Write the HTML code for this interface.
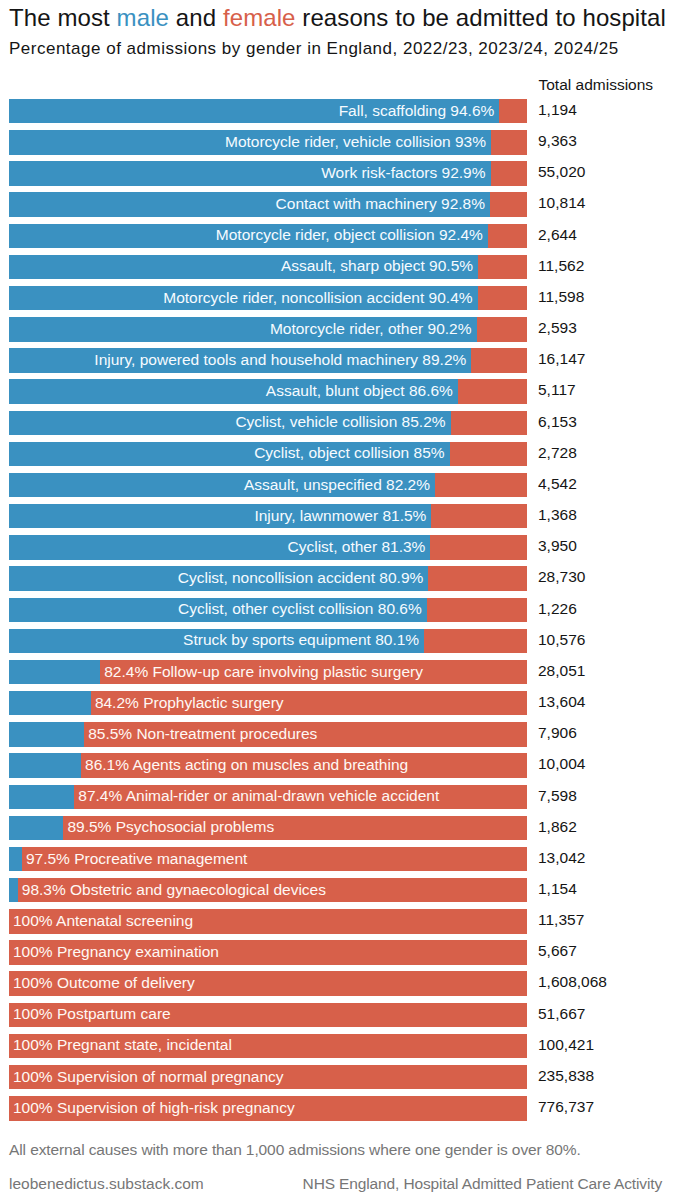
<!DOCTYPE html>
<html><head><meta charset="utf-8"><style>
*{margin:0;padding:0;box-sizing:border-box}
html,body{width:673px;height:1200px;background:#fff;overflow:hidden;font-family:"Liberation Sans",sans-serif;color:#111}
.t{position:absolute;left:9px;top:5.7px;font-size:24px;line-height:24px;letter-spacing:0.1px;white-space:nowrap;color:#151515}
.s{position:absolute;left:9px;top:39.6px;font-size:17px;line-height:17px;letter-spacing:0.5px;white-space:nowrap;color:#151515}
.ta{position:absolute;left:538.5px;top:77.1px;font-size:15.5px;line-height:15.5px;white-space:nowrap;color:#151515}
.r{position:absolute;left:0;width:673px;height:24.4px}
.r::before{content:"";position:absolute;left:9px;top:0;width:518.3px;height:24.4px;background:#d7604a}
.b{position:absolute;left:9px;top:0;height:24.4px;background:#3a91c1}
.lm{position:absolute;right:5px;top:3.7px;line-height:15.5px;font-size:15.5px;color:#f6fbff;white-space:nowrap}
.lf{position:absolute;top:3.7px;line-height:15.5px;font-size:15.5px;color:#fff8f4;white-space:nowrap}
.n{position:absolute;left:538px;top:3.0px;line-height:15.5px;font-size:15.5px;color:#151515;white-space:nowrap}
.f1{position:absolute;left:9px;letter-spacing:-0.1px;top:1141.9px;font-size:15.5px;line-height:15.5px;color:#767676;white-space:nowrap}
.f2{position:absolute;left:9px;top:1175.6px;font-size:15.5px;line-height:15.5px;color:#767676;white-space:nowrap}
.f3{position:absolute;right:11px;letter-spacing:-0.13px;top:1175.6px;font-size:15.5px;line-height:15.5px;color:#767676;white-space:nowrap}
.m{color:#3a91c1} .fe{color:#d7604a}
</style></head><body>
<div class="t">The most <span class="m">male</span> and <span class="fe">female</span> reasons to be admitted to hospital</div>
<div class="s">Percentage of admissions by gender in England, 2022/23, 2023/24, 2024/25</div>
<div class="ta">Total admissions</div>
<div class="r" style="top:99.00px"><div class="b" style="width:490.31px"><span class="lm">Fall, scaffolding 94.6%</span></div><div class="n">1,194</div></div>
<div class="r" style="top:130.16px"><div class="b" style="width:482.02px"><span class="lm">Motorcycle rider, vehicle collision 93%</span></div><div class="n">9,363</div></div>
<div class="r" style="top:161.32px"><div class="b" style="width:481.50px"><span class="lm">Work risk-factors 92.9%</span></div><div class="n">55,020</div></div>
<div class="r" style="top:192.48px"><div class="b" style="width:480.98px"><span class="lm">Contact with machinery 92.8%</span></div><div class="n">10,814</div></div>
<div class="r" style="top:223.64px"><div class="b" style="width:478.91px"><span class="lm">Motorcycle rider, object collision 92.4%</span></div><div class="n">2,644</div></div>
<div class="r" style="top:254.80px"><div class="b" style="width:469.06px"><span class="lm">Assault, sharp object 90.5%</span></div><div class="n">11,562</div></div>
<div class="r" style="top:285.96px"><div class="b" style="width:468.54px"><span class="lm">Motorcycle rider, noncollision accident 90.4%</span></div><div class="n">11,598</div></div>
<div class="r" style="top:317.12px"><div class="b" style="width:467.51px"><span class="lm">Motorcycle rider, other 90.2%</span></div><div class="n">2,593</div></div>
<div class="r" style="top:348.28px"><div class="b" style="width:462.32px"><span class="lm">Injury, powered tools and household machinery 89.2%</span></div><div class="n">16,147</div></div>
<div class="r" style="top:379.44px"><div class="b" style="width:448.85px"><span class="lm">Assault, blunt object 86.6%</span></div><div class="n">5,117</div></div>
<div class="r" style="top:410.60px"><div class="b" style="width:441.59px"><span class="lm">Cyclist, vehicle collision 85.2%</span></div><div class="n">6,153</div></div>
<div class="r" style="top:441.76px"><div class="b" style="width:440.55px"><span class="lm">Cyclist, object collision 85%</span></div><div class="n">2,728</div></div>
<div class="r" style="top:472.92px"><div class="b" style="width:426.04px"><span class="lm">Assault, unspecified 82.2%</span></div><div class="n">4,542</div></div>
<div class="r" style="top:504.08px"><div class="b" style="width:422.41px"><span class="lm">Injury, lawnmower 81.5%</span></div><div class="n">1,368</div></div>
<div class="r" style="top:535.24px"><div class="b" style="width:421.38px"><span class="lm">Cyclist, other 81.3%</span></div><div class="n">3,950</div></div>
<div class="r" style="top:566.40px"><div class="b" style="width:419.30px"><span class="lm">Cyclist, noncollision accident 80.9%</span></div><div class="n">28,730</div></div>
<div class="r" style="top:597.56px"><div class="b" style="width:417.75px"><span class="lm">Cyclist, other cyclist collision 80.6%</span></div><div class="n">1,226</div></div>
<div class="r" style="top:628.72px"><div class="b" style="width:415.16px"><span class="lm">Struck by sports equipment 80.1%</span></div><div class="n">10,576</div></div>
<div class="r" style="top:659.88px"><div class="b" style="width:91.22px"></div><span class="lf" style="left:104.22px">82.4% Follow-up care involving plastic surgery</span><div class="n">28,051</div></div>
<div class="r" style="top:691.04px"><div class="b" style="width:81.89px"></div><span class="lf" style="left:94.89px">84.2% Prophylactic surgery</span><div class="n">13,604</div></div>
<div class="r" style="top:722.20px"><div class="b" style="width:75.15px"></div><span class="lf" style="left:88.15px">85.5% Non-treatment procedures</span><div class="n">7,906</div></div>
<div class="r" style="top:753.36px"><div class="b" style="width:72.04px"></div><span class="lf" style="left:85.04px">86.1% Agents acting on muscles and breathing</span><div class="n">10,004</div></div>
<div class="r" style="top:784.52px"><div class="b" style="width:65.31px"></div><span class="lf" style="left:78.31px">87.4% Animal-rider or animal-drawn vehicle accident</span><div class="n">7,598</div></div>
<div class="r" style="top:815.68px"><div class="b" style="width:54.42px"></div><span class="lf" style="left:67.42px">89.5% Psychosocial problems</span><div class="n">1,862</div></div>
<div class="r" style="top:846.84px"><div class="b" style="width:12.96px"></div><span class="lf" style="left:25.96px">97.5% Procreative management</span><div class="n">13,042</div></div>
<div class="r" style="top:878.00px"><div class="b" style="width:8.81px"></div><span class="lf" style="left:21.81px">98.3% Obstetric and gynaecological devices</span><div class="n">1,154</div></div>
<div class="r" style="top:909.16px"><div class="b" style="width:0.00px"></div><span class="lf" style="left:13.00px">100% Antenatal screening</span><div class="n">11,357</div></div>
<div class="r" style="top:940.32px"><div class="b" style="width:0.00px"></div><span class="lf" style="left:13.00px">100% Pregnancy examination</span><div class="n">5,667</div></div>
<div class="r" style="top:971.48px"><div class="b" style="width:0.00px"></div><span class="lf" style="left:13.00px">100% Outcome of delivery</span><div class="n">1,608,068</div></div>
<div class="r" style="top:1002.64px"><div class="b" style="width:0.00px"></div><span class="lf" style="left:13.00px">100% Postpartum care</span><div class="n">51,667</div></div>
<div class="r" style="top:1033.80px"><div class="b" style="width:0.00px"></div><span class="lf" style="left:13.00px">100% Pregnant state, incidental</span><div class="n">100,421</div></div>
<div class="r" style="top:1064.96px"><div class="b" style="width:0.00px"></div><span class="lf" style="left:13.00px">100% Supervision of normal pregnancy</span><div class="n">235,838</div></div>
<div class="r" style="top:1096.12px"><div class="b" style="width:0.00px"></div><span class="lf" style="left:13.00px">100% Supervision of high-risk pregnancy</span><div class="n">776,737</div></div>
<div class="f1">All external causes with more than 1,000 admissions where one gender is over 80%.</div>
<div class="f2">leobenedictus.substack.com</div>
<div class="f3">NHS England, Hospital Admitted Patient Care Activity</div>
</body></html>
